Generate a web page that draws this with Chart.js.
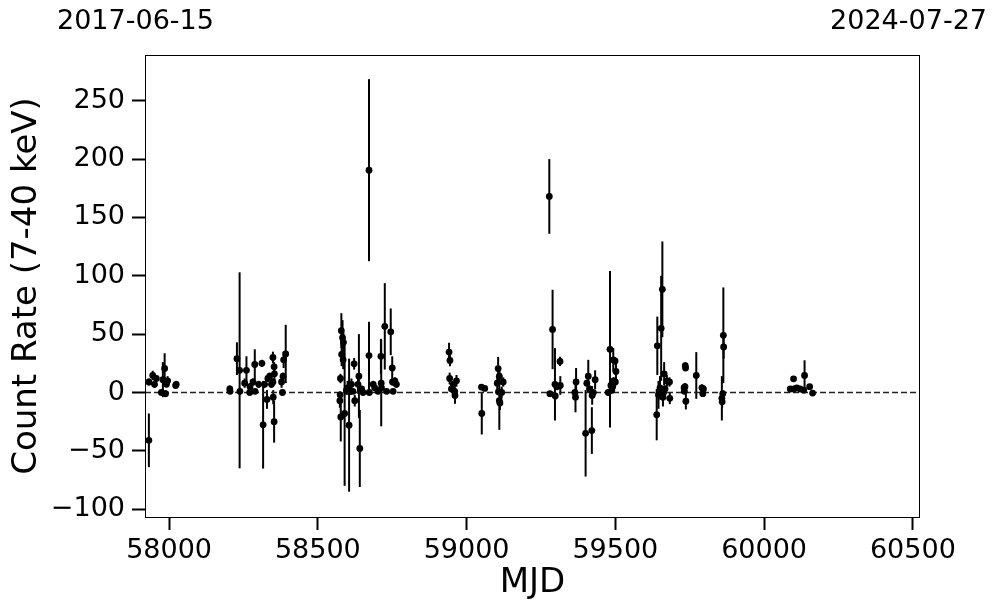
<!DOCTYPE html>
<html>
<head>
<meta charset="utf-8">
<script src="https://cdn.jsdelivr.net/npm/chart.js@4"></script>
<style>
  body { margin: 0; background: #fff; }
  canvas { display: block; }
</style>
</head>
<body>
<canvas id="lc" width="997" height="613"></canvas>
<script>
// light curve points: MJD, count rate (7-40 keV), 1-sigma error
const mjd = [
  57932, 57932, 57945, 57951, 57957, 57974, 57979, 57985, 57988, 57991, 57995, 58022, 58024,
  58204, 58205, 58228, 58237, 58238, 58254, 58260, 58271, 58272, 58282, 58288, 58289, 58301, 58312, 58316,
  58321, 58329, 58332, 58338, 58344, 58349, 58349, 58353, 58353, 58354, 58350, 58378, 58381, 58383, 58385, 58392,
  58576, 58574, 58575, 58577, 58579, 58580, 58583, 58585, 58586, 58590, 58605, 58613, 58618, 58622, 58624,
  58635, 58638, 58641, 58647, 58652, 58672, 58672, 58673, 58686, 58691, 58702, 58712, 58713, 58714, 58725,
  58731, 58745, 58750, 58751, 58753, 58759, 58764, 58596, 58600, 58610,
  58941, 58944, 58943, 58949, 58955, 58961, 58966, 58960,
  59050, 59051, 59061,
  59106, 59110, 59103, 59107, 59110, 59112, 59123, 59118,
  59278, 59289, 59280, 59297, 59298, 59303, 59314, 59315,
  59368, 59364, 59366,
  59400, 59421, 59409, 59404, 59413, 59426, 59422, 59432,
  59482, 59493, 59499, 59502, 59494, 59500, 59485, 59488, 59476, 59491,
  59641, 59639, 59658, 59654, 59664, 59673, 59682, 59683, 59650, 59645, 59662, 59667, 59660,
  59735, 59736, 59731, 59734, 59732, 59737, 59772, 59791, 59796, 59794,
  59863, 59864, 59858, 59859, 59861,
  60088, 60099, 60100, 60110, 60121, 60136, 60133, 60153, 60163
];
const rate = [
  -41, 9, 14.6, 7, 12, 0, 11, 20.6, -1, 7, 10, 6, 7,
  3, 1, 29, 19, 1, 8, 19, 0, 5, 9, 24, 1, 7, 25, -27.7,
  7, -6, 12, 14, 7, 30, 9, 22, -25, 16, -4, 9, 0, 14, 28, 33,
  12, -7, -2, -21, 53, 32.6, 47, 28, 43, -18, -28, 7, 1, 24.6, -7,
  7, 14, -48, 3, 0, 190.5, 31.6, 0, 7, 4, 1, 31, 8, 4, 56.7,
  1, 52, 21, 9, 1, 10, 7, 2, 4, 1,
  34.6, 27.5, 12, 3, 7, -2.6, 10, 1,
  4.6, -18, 3.5,
  20.5, 14, 8, 0.6, -7, -9, 9, 0,
  168, 54, -1, 7, -3, 5, 26.6, 6,
  9, 0, -4,
  -35, -32.6, 14, 8, 3, 0, -2.5, 11,
  37, 28, 27, 18, 10, 9, 6, 2, 0, 5,
  40, -19, 88.4, 55, 16, 10, 9, -5, 4, -2, 0, 3, -4,
  23, 21, 4, 5, 1, -7.5, 14.6, 4, 3, -1,
  49, 39, -5, -8, -1,
  3, 11.7, 3, 4, 3, 14.6, 2, 5, -0.5
];
const err = [
  23, 3, 4, 3, 3, 2, 15, 13, 3, 2, 4, 2, 3,
  3, 2, 14, 84, 3, 4, 12, 2, 3, 3, 13, 2, 3, 3, 37.5,
  3, 8, 3, 3, 3, 5, 3, 4, 18, 5, 6, 5, 2, 3, 7, 25,
  4, 6, 3, 21, 15, 10, 15, 8, 8, 62, 57, 5, 2, 5, 5,
  8, 36, 33, 2, 2, 78, 29, 2, 3, 2, 2, 15, 37, 3, 37,
  2, 20, 10, 3, 2, 3, 3, 4, 6, 3,
  8, 5, 5, 2, 3, 7, 5, 2,
  2, 18, 2,
  10, 6, 5, 3, 25, 6, 4, 5,
  32, 34, 2, 31, 3, 3, 4, 8,
  12, 3, 13,
  37, 20, 14, 3, 3, 2, 8, 8,
  67, 10, 3, 8, 3, 3, 3, 3, 2, 3,
  25, 22, 41, 45, 10, 5, 4, 5, 10, 12, 3, 3, 8,
  3, 2, 3, 3, 2, 7, 20, 3, 3, 2,
  41, 10, 19, 5, 3,
  2, 2, 2, 2, 2, 13, 2, 2, 2
];
const xTicks = [58000, 58500, 59000, 59500, 60000, 60500];
const yTicks = [-100, -50, 0, 50, 100, 150, 200, 250];
const xRange = [57919, 60524];
const yRange = [-106.7, 289.2];
const startLabel = '2017-06-15';
const endLabel = '2024-07-27';

const tickFont = { family: 'DejaVu Sans', size: 27 };
const titleFont = { family: 'DejaVu Sans', size: 34 };

// vertical error bars, drawn under the markers
const errorBars = {
  id: 'errorBars',
  beforeDatasetsDraw(chart) {
    const { ctx, chartArea, scales } = chart;
    ctx.save();
    ctx.beginPath();
    ctx.rect(chartArea.left, chartArea.top, chartArea.right - chartArea.left, chartArea.bottom - chartArea.top);
    ctx.clip();
    ctx.strokeStyle = '#000';
    ctx.lineWidth = 2;
    for (let i = 0; i < mjd.length; i++) {
      const x = scales.x.getPixelForValue(mjd[i]);
      ctx.beginPath();
      ctx.moveTo(x, scales.y.getPixelForValue(rate[i] - err[i]));
      ctx.lineTo(x, scales.y.getPixelForValue(rate[i] + err[i]));
      ctx.stroke();
    }
    ctx.restore();
  }
};

// axes frame and the two date labels at the top
const frameAndDates = {
  id: 'frameAndDates',
  afterDraw(chart) {
    const { ctx, chartArea } = chart;
    ctx.save();
    ctx.strokeStyle = '#000';
    ctx.lineWidth = 1;
    ctx.strokeRect(chartArea.left + 0.5, chartArea.top + 0.5,
      chartArea.right - chartArea.left - 1, chartArea.bottom - chartArea.top);
    ctx.fillStyle = '#000';
    ctx.font = '27px "DejaVu Sans"';
    ctx.textBaseline = 'middle';
    ctx.textAlign = 'left';
    ctx.fillText(startLabel, 57, 22);
    ctx.textAlign = 'right';
    ctx.fillText(endLabel, 987, 22);
    ctx.restore();
  }
};

const points = mjd.map((m, i) => ({ x: m, y: rate[i] }));

new Chart(document.getElementById('lc'), {
  type: 'scatter',
  data: {
    datasets: [
      {
        data: points,
        pointRadius: 3.4,
        pointHoverRadius: 3.4,
        backgroundColor: '#000',
        borderWidth: 0,
        order: 1
      },
      {
        type: 'line',
        data: [{ x: xRange[0], y: 0 }, { x: xRange[1], y: 0 }],
        borderColor: '#222',
        borderWidth: 1.5,
        borderDash: [6, 3],
        pointRadius: 0,
        fill: false,
        order: 2
      }
    ]
  },
  options: {
    responsive: false,
    animation: false,
    devicePixelRatio: 1,
    layout: { padding: { top: 55, right: 77, left: 0, bottom: 0 } },
    plugins: {
      legend: { display: false },
      tooltip: { enabled: false }
    },
    scales: {
      x: {
        type: 'linear',
        min: xRange[0],
        max: xRange[1],
        afterBuildTicks: axis => { axis.ticks = xTicks.map(v => ({ value: v })); },
        afterFit: axis => { axis.height = 96; },
        border: { display: false },
        grid: { drawOnChartArea: false, drawTicks: true, tickLength: 13, tickWidth: 2, tickColor: '#000' },
        ticks: { color: '#000', font: tickFont, padding: 5, maxRotation: 0, callback: v => String(v) },
        title: { display: true, text: 'MJD', color: '#000', font: titleFont, padding: { top: 0, bottom: 9 } }
      },
      y: {
        type: 'linear',
        min: yRange[0],
        max: yRange[1],
        afterBuildTicks: axis => { axis.ticks = yTicks.map(v => ({ value: v })); },
        afterFit: axis => { axis.width = 145; },
        border: { display: false },
        grid: { drawOnChartArea: false, drawTicks: true, tickLength: 13, tickWidth: 2, tickColor: '#000' },
        ticks: { color: '#000', font: tickFont, padding: 7, callback: v => String(v).replace('-', '\u2212') },
        title: { display: true, text: 'Count Rate (7-40 keV)', color: '#000', font: titleFont, padding: { top: 7, bottom: 0 } }
      }
    }
  },
  plugins: [errorBars, frameAndDates]
});
</script>
</body>
</html>
